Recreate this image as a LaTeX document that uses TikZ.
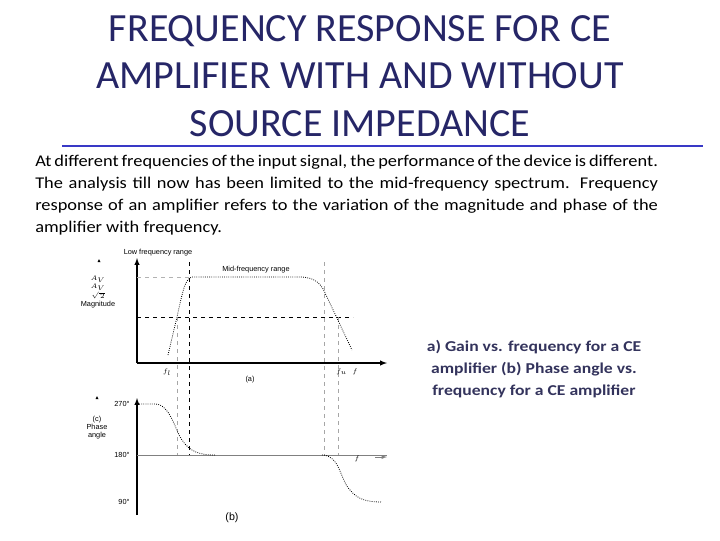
\documentclass[tikz,border=0pt]{standalone}
\usepackage{fontspec}
\setmainfont{Carlito}
\newfontfamily\gfont{Liberation Sans}
\newfontfamily\widefont[FakeStretch=1.12]{Carlito}
\newfontfamily\widebold[FakeStretch=1.17]{Carlito Bold}
\begin{document}
\begin{tikzpicture}[x=0.75pt,y=-0.75pt,
  ttl/.style={font=\fontsize{30}{34}\selectfont,text=black!70!blue!85,inner sep=0},
  sm/.style={font=\gfont\fontsize{5.5}{6}\selectfont,inner sep=0},
  ax/.style={line width=0.8pt,-latex},
  vd/.style={dashed,gray!70},
  cv/.style={densely dotted,line width=0.6pt}]
\useasboundingbox (0,0) rectangle (720,540);
\node[ttl] (t1) at (360,31) {FREQUENCY RESPONSE FOR CE};
\node[ttl] (t2) at (360,76) {AMPLIFIER WITH AND WITHOUT};
\node[ttl] (t3) at (360,124) {SOURCE IMPEDANCE};
\draw[line width=1.5pt,blue!55!gray] (62,146) -- (703,146);
\node[anchor=north west,text width=467pt,align=justify,font=\widefont\fontsize{12.3}{16.5}\selectfont,inner sep=0] (p) at (35,155)
{At different frequencies of the input signal, the performance of the device is different. The analysis till now has been limited to the mid-frequency spectrum. Frequency response of an amplifier refers to the variation of the magnitude and phase of the amplifier with frequency.};
% magnitude plot
\coordinate (o1) at (137,363);
\draw[ax] (o1) -- (137,258);
\draw[ax] (o1) -- (387,363);
\draw[dashed] (137,317) -- (353,317);
\draw[dashed,gray!60] (137,277) -- (190,277);
\draw[vd] (177,317) -- (177,455);
\draw[dashed] (189,262) -- (189,455);
\draw[vd] (324,262) -- (324,455);
\draw[vd] (338,317) -- (338,455);
\draw[cv] (168,355) -- (177,317) .. controls (183,290) and (185,279) .. (192,277) -- (300,277) .. controls (316,277) and (322,285) .. (326,295) -- (352,350);
\node[sm] (l1) at (158,253) {Low frequency range};
\node[sm] (l2) at (256,270) {Mid-frequency range};
\node[sm,align=center,font=\gfont\fontsize{5.5}{6.2}\selectfont] (l3) at (98,292) {$A_V$\\$A_V$\\$\sqrt{\,2}$\\Magnitude};
\fill (97.5,262) -- (100.5,262) -- (99,259) -- cycle;
\node[sm] (f1) at (167,372) {$f_l$};
\node[sm] (fu) at (347,372) {$f_u\;\; f$};
\node[sm] (la) at (250,380) {(a)};
% phase plot
\coordinate (o2) at (137,515);
\draw[ax] (o2) -- (137,398);
\draw[gray] (137,455) -- (387,455);
\draw[-latex,gray] (375,457) -- (387,457);
\draw[cv] (137,404) -- (155,404) .. controls (170,404) and (175,430) .. (182,440) .. controls (190,452) and (200,455) .. (215,455);
\draw[cv] (322,455) .. controls (340,455) and (340,480) .. (350,490) .. controls (358,500) and (368,502) .. (382,502);
\node[sm] (a1) at (122,404) {270°};
\node[sm] (a2) at (122,455) {180°};
\node[sm] (a3) at (124,502) {90°};
\node[sm,align=center] (pc) at (97,428) {(c)\\Phase\\angle};
\fill (95.5,399) -- (98.5,399) -- (97,396) -- cycle;
\node[sm] (fph) at (357,459) {$f$};
\node[font=\gfont\fontsize{8}{9}\selectfont,inner sep=0] (lb) at (232,518) {(b)};
% caption
\node[align=center,font=\widebold\fontsize{11.3}{16.3}\selectfont,text=black!80!blue!80,inner sep=0] (cap) at (534,369)
{a) Gain vs. frequency for a CE\\ amplifier (b) Phase angle vs.\\ frequency for a CE amplifier};
\end{tikzpicture}
\end{document}
